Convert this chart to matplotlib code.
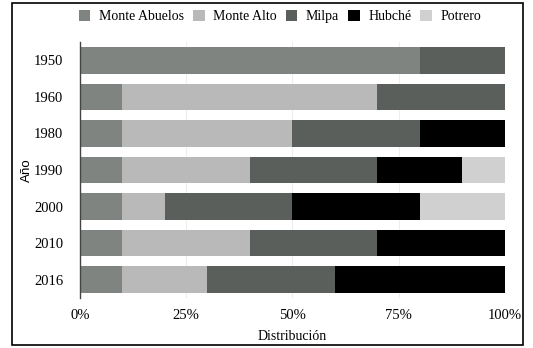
import matplotlib
matplotlib.use("Agg")
import matplotlib.pyplot as plt
from matplotlib.patches import Rectangle
from matplotlib.ticker import PercentFormatter

years = ["1950", "1960", "1980", "1990", "2000", "2010", "2016"]
monte_abuelos = [80, 10, 10, 10, 10, 10, 10]
monte_alto = [0, 60, 40, 30, 10, 30, 20]
milpa = [20, 30, 30, 30, 30, 30, 30]
hubche = [0, 0, 20, 20, 30, 30, 40]
potrero = [0, 0, 0, 10, 20, 0, 0]

series = [
    ("Monte Abuelos", monte_abuelos, "#7f8480"),
    ("Monte Alto", monte_alto, "#b9b9b9"),
    ("Milpa", milpa, "#5b5f5c"),
    ("Hubché", hubche, "#000000"),
    ("Potrero", potrero, "#d0d0d0"),
]

plt.rcParams["font.family"] = ["Liberation Serif", "DejaVu Serif"]

fig = plt.figure(figsize=(5.33, 3.48), dpi=100)
ax = fig.add_axes([0.150, 0.144, 0.797, 0.735])

pos = list(range(len(years)))
left = [0] * len(years)
for label, values, color in series:
    ax.barh(pos, values, left=left, height=0.72, color=color, label=label, zorder=2)
    left = [a + b for a, b in zip(left, values)]

ax.set_ylim(len(years) - 0.5, -0.5)
ax.set_xlim(0, 100)
ax.set_yticks(pos)
ax.set_yticklabels(years, fontsize=10.5)
ax.set_xticks([0, 25, 50, 75, 100])
ax.xaxis.set_major_formatter(PercentFormatter(decimals=0))
ax.tick_params(axis="x", labelsize=10.5, length=0, pad=8)
ax.tick_params(axis="y", length=0, pad=12)
ax.grid(axis="x", color="#eeeeee", linewidth=0.8, zorder=0)

for side in ["top", "right", "bottom"]:
    ax.spines[side].set_visible(False)
ax.spines["left"].set_color("#444444")
ax.spines["left"].set_linewidth(1)

ax.set_xlabel("Distribución", fontsize=10, labelpad=6)
ax.set_ylabel("Año", fontsize=9.5, family=["Liberation Sans", "DejaVu Sans"], labelpad=1)

fig.legend(
    loc="upper center",
    bbox_to_anchor=(0.525, 1.008),
    ncol=5,
    frameon=False,
    fontsize=10,
    handlelength=0.85,
    handleheight=0.85,
    handletextpad=0.6,
    columnspacing=0.65,
)

fig.add_artist(
    Rectangle(
        (12 / 533, 3 / 348),
        511 / 533,
        342 / 348,
        transform=fig.transFigure,
        fill=False,
        edgecolor="black",
        linewidth=1.2,
    )
)

fig.savefig("out.png", dpi=100)
